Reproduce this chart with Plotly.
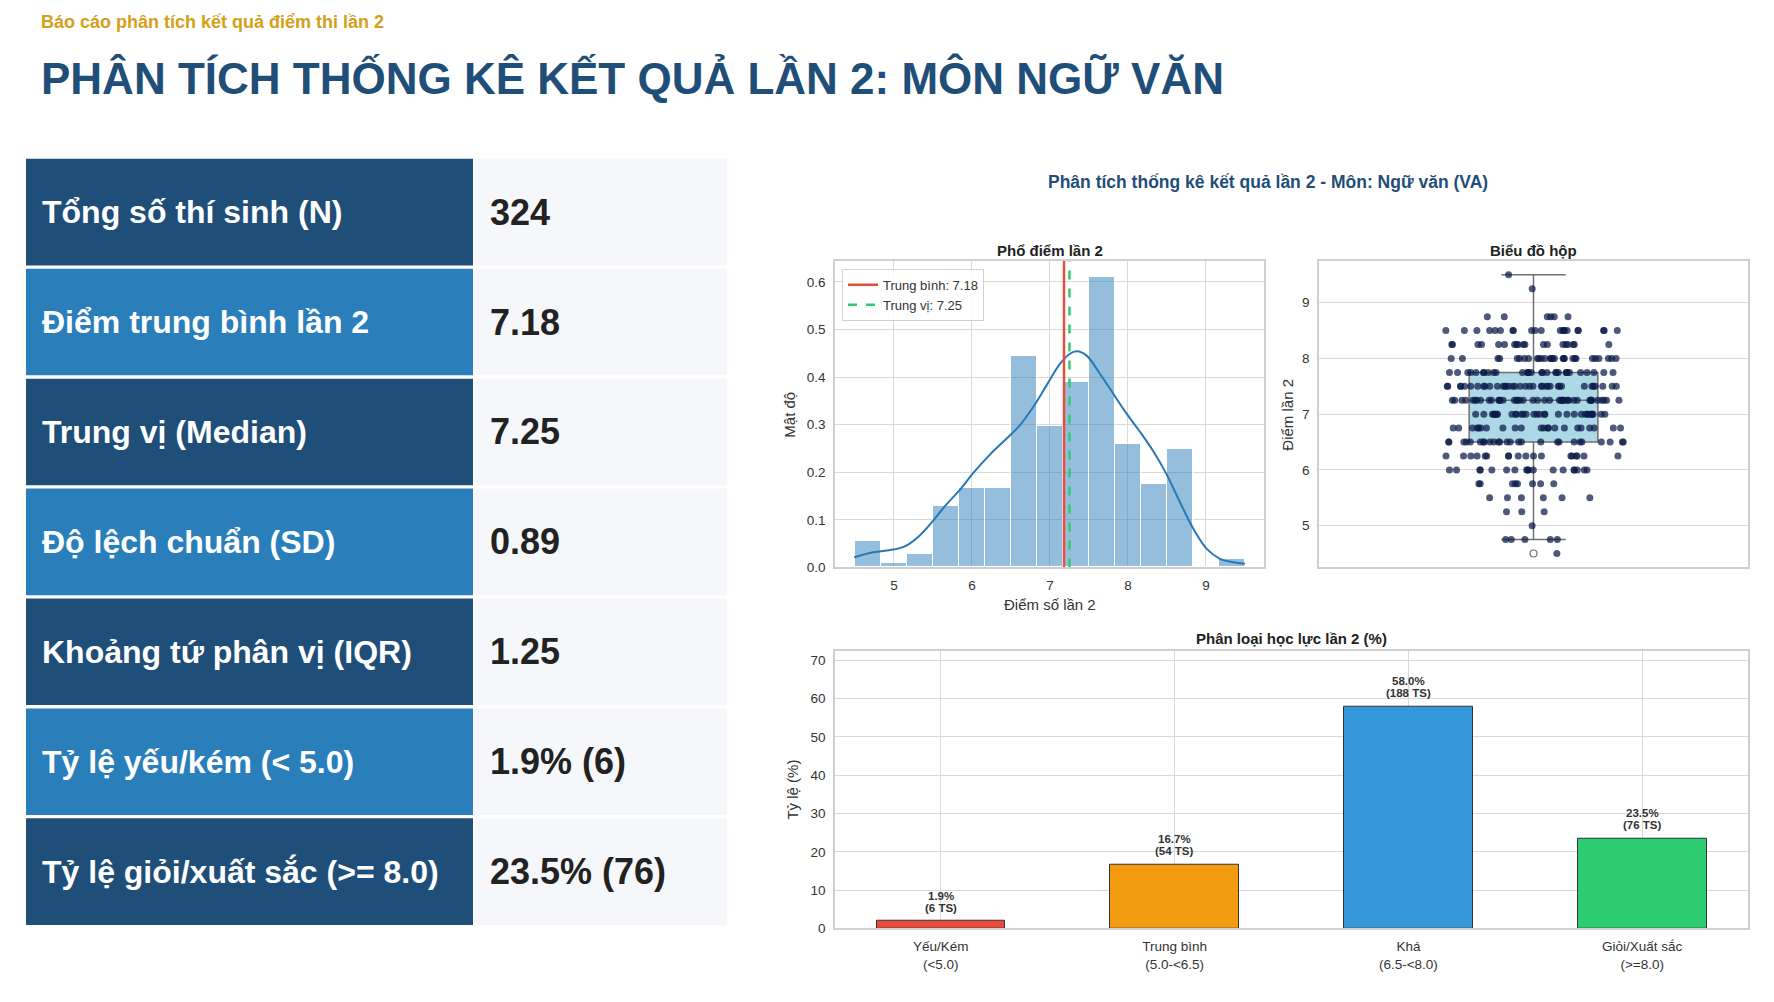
import numpy as np
import plotly.graph_objects as go

# ---------------- data ----------------
report_label = "Báo cáo phân tích kết quả điểm thi lần 2"
main_title = "PHÂN TÍCH THỐNG KÊ KẾT QUẢ LẦN 2: MÔN NGỮ VĂN"
chart_title = "Phân tích thống kê kết quả lần 2 - Môn: Ngữ văn (VA)"

stat_labels = [
    "Tổng số thí sinh (N)",
    "Điểm trung bình lần 2",
    "Trung vị (Median)",
    "Độ lệch chuẩn (SD)",
    "Khoảng tứ phân vị (IQR)",
    "Tỷ lệ yếu/kém (< 5.0)",
    "Tỷ lệ giỏi/xuất sắc (>= 8.0)",
]
stat_values = ["324", "7.18", "7.25", "0.89", "1.25", "1.9% (6)", "23.5% (76)"]

score_values = [4.5, 4.75, 5.0, 5.25, 5.5, 5.75, 6.0, 6.25, 6.5, 6.75,
                7.0, 7.25, 7.5, 7.75, 8.0, 8.25, 8.5, 8.75, 9.25, 9.5]
score_counts = [1, 5, 1, 3, 6, 8, 18, 18, 26, 22,
                32, 42, 36, 30, 28, 19, 21, 6, 1, 1]

mean_score = 7.18
median_score = 7.25

kde_x = [4.49, 4.735, 4.99, 5.16, 5.33, 5.50, 5.676, 5.85, 6.02, 6.23, 6.445,
         6.616, 6.787, 6.958, 7.13, 7.257, 7.343, 7.47, 7.64, 7.812, 7.98,
         8.154, 8.325, 8.497, 8.67, 8.84, 9.01, 9.18, 9.35, 9.50]
kde_y = [0.0215, 0.032, 0.0375, 0.046, 0.067, 0.098, 0.133, 0.164, 0.199, 0.237,
         0.271, 0.299, 0.3375, 0.383, 0.428, 0.449, 0.454, 0.445, 0.407, 0.365,
         0.3236, 0.285, 0.244, 0.195, 0.136, 0.0806, 0.039, 0.018, 0.011, 0.0077]

grade_labels = ["Yếu/Kém<br>(<5.0)", "Trung bình<br>(5.0-<6.5)",
                "Khá<br>(6.5-<8.0)", "Giỏi/Xuất sắc<br>(>=8.0)"]
grade_pct = [1.9, 16.7, 58.0, 23.5]
grade_n = [6, 54, 188, 76]
grade_colors = ["#e74c3c", "#f39c12", "#3498db", "#2ecc71"]

# ---------------- derived ----------------
scores = np.repeat(score_values, score_counts)
dens, edges = np.histogram(scores, bins=15, range=(4.5, 9.5), density=True)
centers = (edges[:-1] + edges[1:]) / 2
bw = edges[1] - edges[0]

# ---------------- page geometry (page pixels) ----------------
W, H = 1758, 986
OFF = 8


def px(x):
    return (x - OFF) / W


def py(y):
    return 1 - (y - OFF) / H


FONT = "Liberation Sans, Arial, Helvetica, sans-serif"
DARK = "#1f4e79"
LIGHT = "#2a7fba"
GRID = "#d9d9d9"
FRAME = "#cfcfcf"
TICK = 13.5

fig = go.Figure()

# Histogram
fig.add_trace(go.Bar(
    x=centers, y=dens, width=bw, xaxis="x", yaxis="y",
    marker=dict(color="rgba(31,119,180,0.48)", line=dict(color="white", width=1)),
    showlegend=False, hoverinfo="skip"))
fig.add_trace(go.Scatter(
    x=kde_x, y=kde_y, mode="lines", xaxis="x", yaxis="y",
    line=dict(color="#2878b5", width=2, shape="spline"), showlegend=False))
HIST_YMAX = 0.644
fig.add_trace(go.Scatter(
    x=[mean_score, mean_score], y=[0, HIST_YMAX], mode="lines", xaxis="x", yaxis="y",
    line=dict(color="#e74c3c", width=2.5), name=f"Trung bình: {mean_score:.2f}"))
fig.add_trace(go.Scatter(
    x=[median_score, median_score], y=[0, HIST_YMAX], mode="lines", xaxis="x", yaxis="y",
    line=dict(color="#2ecc71", width=2.5, dash="dash"), name=f"Trung vị: {median_score:.2f}"))

# Box plot
fig.add_trace(go.Box(
    y=scores, x0=0, width=0.3, xaxis="x2", yaxis="y2",
    fillcolor="#add8e6", line=dict(color="#707070", width=1.5),
    boxpoints="outliers", pointpos=0, jitter=0, whiskerwidth=0.5,
    marker=dict(symbol="circle-open", color="#707070", size=7, line=dict(width=1.2)),
    showlegend=False, hoverinfo="skip"))
fig.add_trace(go.Box(
    y=scores, x0=0, width=0.42, xaxis="x2", yaxis="y2",
    fillcolor="rgba(0,0,0,0)", line=dict(color="rgba(0,0,0,0)", width=0),
    boxpoints="all", pointpos=0, jitter=1,
    marker=dict(color="#0b1a48", opacity=0.72, size=7),
    showlegend=False, hoverinfo="skip"))

# Bar chart
fig.add_trace(go.Bar(
    x=grade_labels, y=grade_pct, width=0.55, xaxis="x3", yaxis="y3",
    marker=dict(color=grade_colors, line=dict(color="#333333", width=1)),
    showlegend=False, hoverinfo="skip"))

shapes = []
annotations = []

# Table
row_top0 = 160
row_pitch = 110.83
row_h = 107.5
for i, (lab, val) in enumerate(zip(stat_labels, stat_values)):
    top = row_top0 + i * row_pitch
    bot = top + row_h
    col = DARK if i % 2 == 0 else LIGHT
    shapes.append(dict(type="rect", xref="paper", yref="paper",
                       x0=px(26), x1=px(473), y0=py(bot), y1=py(top),
                       fillcolor=col, line=dict(width=0), layer="below"))
    shapes.append(dict(type="rect", xref="paper", yref="paper",
                       x0=px(474), x1=px(727), y0=py(bot), y1=py(top),
                       fillcolor="#f5f7fb", line=dict(width=0), layer="below"))
    annotations.append(dict(xref="paper", yref="paper", x=px(40), y=py((top + bot) / 2),
                            xanchor="left", yanchor="middle", showarrow=False,
                            text=f"<b>{lab}</b>",
                            font=dict(family=FONT, size=32, color="white")))
    annotations.append(dict(xref="paper", yref="paper", x=px(488), y=py((top + bot) / 2),
                            xanchor="left", yanchor="middle", showarrow=False,
                            text=f"<b>{val}</b>",
                            font=dict(family=FONT, size=36, color="#222222")))

# Headline texts
annotations.append(dict(xref="paper", yref="paper", x=px(39), y=py(22), xanchor="left",
                        yanchor="middle", showarrow=False, text=f"<b>{report_label}</b>",
                        font=dict(family=FONT, size=18, color="#d4a017")))
annotations.append(dict(xref="paper", yref="paper", x=px(39), y=py(79), xanchor="left",
                        yanchor="middle", showarrow=False, text=f"<b>{main_title}</b>",
                        font=dict(family=FONT, size=44, color=DARK)))
annotations.append(dict(xref="paper", yref="paper", x=px(1268), y=py(183), xanchor="center",
                        yanchor="middle", showarrow=False, text=f"<b>{chart_title}</b>",
                        font=dict(family=FONT, size=17.5, color=DARK)))

# Subplot titles
for txt, xc, yc in [("Phổ điểm lần 2", 1049.5, 252), ("Biểu đồ hộp", 1533.5, 252),
                    ("Phân loại học lực lần 2 (%)", 1291.5, 644)]:
    annotations.append(dict(xref="paper", yref="paper", x=px(xc), y=py(yc), xanchor="center",
                            yanchor="middle", showarrow=False, text=f"<b>{txt}</b>",
                            font=dict(family=FONT, size=15, color="#222222")))

# Axis titles
axis_titles = [("Điểm số lần 2", 1049.5, 609, 0), ("Mật độ", 790, 418, -90),
               ("Điểm lần 2", 1288, 418, -90), ("Tỷ lệ (%)", 793, 796, -90)]
for txt, xc, yc, ang in axis_titles:
    annotations.append(dict(xref="paper", yref="paper", x=px(xc), y=py(yc), xanchor="center",
                            yanchor="middle", showarrow=False, text=txt, textangle=ang,
                            font=dict(family=FONT, size=15, color="#333333")))

# Bar value labels (two lines, tight spacing)
for lab, p, n in zip(grade_labels, grade_pct, grade_n):
    annotations.append(dict(xref="x3", yref="y3", x=lab, y=p, xanchor="center",
                            yanchor="middle", yshift=25, showarrow=False,
                            text=f"<b>{p:.1f}%</b>",
                            font=dict(family=FONT, size=11.5, color="#333333")))
    annotations.append(dict(xref="x3", yref="y3", x=lab, y=p, xanchor="center",
                            yanchor="middle", yshift=13, showarrow=False,
                            text=f"<b>({n} TS)</b>",
                            font=dict(family=FONT, size=11.5, color="#333333")))

axis_common = dict(showline=True, mirror=True, linecolor=FRAME, linewidth=1.5,
                   gridcolor=GRID, gridwidth=1, zeroline=False,
                   tickfont=dict(family=FONT, size=TICK, color="#333333"),
                   ticks="outside", ticklen=5, tickcolor="rgba(0,0,0,0)")

fig.update_layout(
    width=W, height=H,
    margin=dict(l=0, r=0, t=0, b=0),
    paper_bgcolor="white", plot_bgcolor="white",
    font=dict(family=FONT, color="#333333"),
    boxmode="overlay", bargap=0,
    shapes=shapes, annotations=annotations,
    showlegend=True,
    legend=dict(x=px(842), y=py(271), xanchor="left", yanchor="top",
                bgcolor="rgba(255,255,255,0.85)", bordercolor="#d0d0d0", borderwidth=1,
                font=dict(family=FONT, size=13, color="#333333"),
                tracegroupgap=0, itemwidth=30),
    xaxis=dict(domain=[px(835), px(1264)], range=[4.244, 9.744], anchor="y",
               tickvals=[5, 6, 7, 8, 9], **axis_common),
    yaxis=dict(domain=[py(572), py(263)], range=[0, HIST_YMAX], anchor="x",
               tickvals=[0, 0.1, 0.2, 0.3, 0.4, 0.5, 0.6], tickformat=".1f", **axis_common),
    xaxis2=dict(domain=[px(1319), px(1748)], range=[-0.5, 0.5], anchor="y2",
                showticklabels=False, **{**axis_common, "ticks": ""}),
    yaxis2=dict(domain=[py(572), py(263)], range=[4.25, 9.75], anchor="x2",
                tickvals=[5, 6, 7, 8, 9], **axis_common),
    xaxis3=dict(domain=[px(835), px(1748)], range=[-0.4525, 3.4525], anchor="y3",
                type="category", **axis_common),
    yaxis3=dict(domain=[py(936), py(656)], range=[0, 72.5], anchor="x3",
                tickvals=[0, 10, 20, 30, 40, 50, 60, 70], **axis_common),
)
fig.update_xaxes(selector=dict(anchor="y2"), showgrid=False)

fig.write_html("out.html")
